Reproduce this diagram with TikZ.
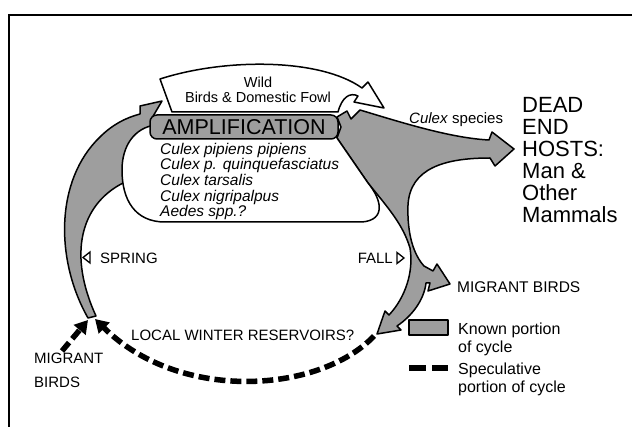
\documentclass[tikz,border=0pt]{standalone}
\usepackage{fontspec}
\setmainfont{Liberation Sans}
\usepackage{tikz}
\usetikzlibrary{arrows.meta}
\definecolor{cyclegrey}{gray}{0.62}

\begin{document}
\begin{tikzpicture}[x=1pt,y=-1pt,
		outline/.style={draw=black, line width=1.5pt, line join=round},
		known/.style={outline, fill=cyclegrey},
		ampbox/.style={known, rounded corners=7pt, minimum width=188pt, minimum height=24pt, inner sep=0pt, font=\fontsize{21.5}{24}\selectfont},
		lbl/.style={font=\fontsize{15}{18}\selectfont, inner sep=0pt},
		species/.style={font=\fontsize{15.5}{16}\selectfont\itshape, inner sep=0pt},
		speculative/.style={line width=5.5pt, dash pattern=on 11pt off 5pt, -{Triangle[length=13pt,width=15pt]}},
		notch/.style={draw=black, line width=1.3pt, fill=white, line join=miter}]
	\useasboundingbox (0,0) rectangle (632,427);
	\draw[line width=1.5pt] (9,427) -- (9,15) -- (632,15);

	\path[known] (88,318) .. controls (55,260) and (55,180) .. (100,137) .. controls (112,125) and (125,118) .. (140,114) -- (140,106) -- (162,101) -- (152,118) -- (155,128) -- (135,160) -- (123,183) .. controls (80,205) and (68,255) .. (96,316) -- cycle;
	\path[known] (337,138) -- (341,127) -- (337,117) -- (347,111) -- (351,119) -- (360,110) .. controls (400,122) and (450,138) .. (489,140) -- (492,132) -- (514,149) -- (495,166) -- (490,158) .. controls (445,158) and (410,168) .. (408,205) .. controls (407,235) and (414,255) .. (424,266) -- (433,271) -- (437,264) -- (450,284) -- (428,291) -- (430,283) -- (426,283) .. controls (424,300) and (412,316) .. (397,326) -- (401,330) -- (377,334) -- (385,311) -- (389,315) .. controls (405,298) and (414,272) .. (410,248) .. controls (403,225) and (390,210) .. (368,183) -- cycle;
	\path[outline, fill=white] (155,125) -- (336,125) -- (337,138) -- (368,183) .. controls (382,200) and (386,220) .. (362,222) -- (165,222) .. controls (135,222) and (122,200) .. (122,170) .. controls (122,145) and (135,128) .. (155,125) -- cycle;
	\node[ampbox] (amp) at (244,127) {AMPLIFICATION};
	\path[outline, fill=white] (160,79) .. controls (225,58) and (320,58) .. (362,88) -- (368,82) -- (384,108) -- (354,102) -- (358,96) .. controls (350,92) and (342,97) .. (338,112) -- (172,112) -- cycle;

	\node[lbl, font=\fontsize{14.5}{15}\selectfont, align=center] (wild) at (258,89.5) {Wild\\Birds \& Domestic Fowl};
	\foreach \sp [count=\i] in {Culex pipiens pipiens, Culex p. quinquefasciatus, Culex tarsalis, Culex nigripalpus, Aedes spp.?}
		\node[species, anchor=base west] (sp\i) at (160,138.7+15.6*\i) {\sp};
	\node[lbl, anchor=base west] (culex) at (409,124) {\textit{Culex} species};
	\node[lbl, font=\fontsize{22}{22}\selectfont, align=left, anchor=north west] (hosts) at (522,97) {DEAD\\END\\HOSTS:\\Man \&\\Other\\Mammals};
	\node[lbl, anchor=west] (spring) at (100,258) {SPRING};
	\node[lbl, anchor=east] (fall) at (393,258) {FALL};
	\draw[notch] (90,252) -- (83,257.5) -- (90,263) -- cycle;
	\draw[notch] (397,252.5) -- (404,258) -- (397,263.5) -- cycle;
	\node[lbl, font=\fontsize{15.5}{18}\selectfont, anchor=west] (migright) at (457,287) {MIGRANT BIRDS};
	\node[lbl, align=left, font=\fontsize{15}{24}\selectfont, anchor=north west] (migleft) at (34,352.5) {MIGRANT\\BIRDS};
	\node[lbl, anchor=west] (winter) at (131,335) {LOCAL WINTER RESERVOIRS?};

	\coordinate (fallend) at (374,336);
	\coordinate (springend) at (95,319);
	\coordinate (migstart) at (62,351);
	\coordinate (migend) at (88,320);
	\draw[speculative] (fallend) .. controls (320,393) and (180,403) .. (springend);
	\draw[speculative] (migstart) -- (migend);

	\node[known, minimum width=39pt, minimum height=15pt, inner sep=0pt] (knownkey) at (428.5,327.5) {};
	\coordinate (speckeyl) at (409,368);
	\coordinate (speckeyr) at (448,368);
	\draw[line width=6pt, dash pattern=on 17pt off 6pt] (speckeyl) -- (speckeyr);
	\node[lbl, font=\fontsize{16}{18.5}\selectfont, align=left, anchor=north west] (knowntext) at (458,322.5) {Known portion\\of cycle};
	\node[lbl, font=\fontsize{16}{18.5}\selectfont, align=left, anchor=north west] (spectext) at (458,362.5) {Speculative\\portion of cycle};
\end{tikzpicture}
\end{document}
